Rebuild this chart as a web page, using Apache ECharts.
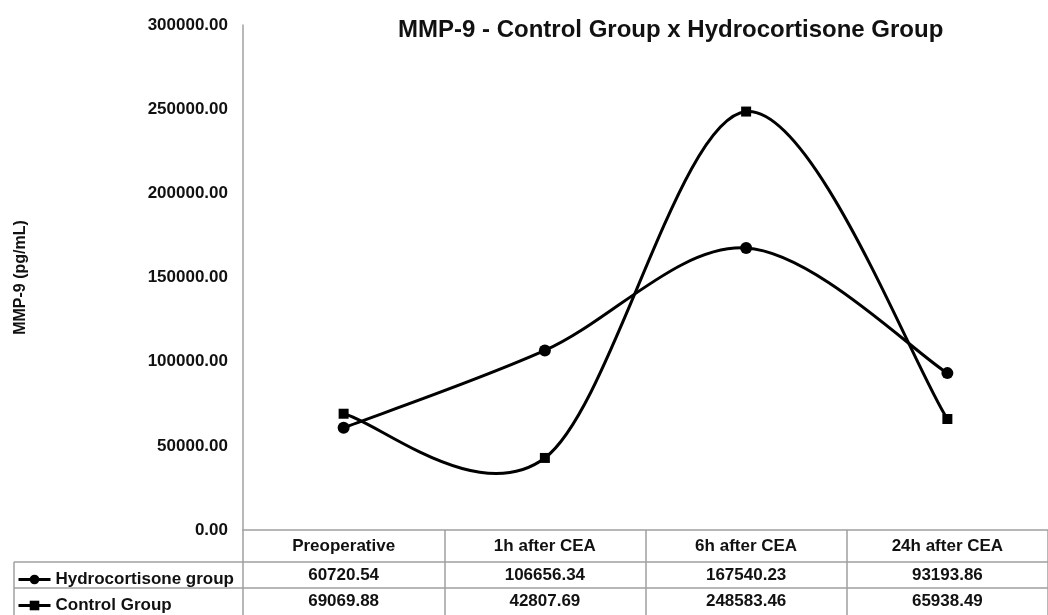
<!DOCTYPE html>
<html>
<head>
<meta charset="utf-8">
<script src="https://cdn.jsdelivr.net/npm/echarts@6/dist/echarts.min.js"></script>
<style>
  html, body { margin: 0; padding: 0; background: #fff; }
  #chart { width: 1048px; height: 615px; }
</style>
</head>
<body>
<div id="chart"></div>
<script>
var categories = ['Preoperative', '1h after CEA', '6h after CEA', '24h after CEA'];
var hydroValues = [60720.54, 106656.34, 167540.23, 93193.86];
var controlValues = [69069.88, 42807.69, 248583.46, 65938.49];
var yTicks = [0, 50000, 100000, 150000, 200000, 250000, 300000];

var font = 'Liberation Sans, Arial, sans-serif';
var gridColor = '#a0a0a0';

function fmt(v) { return v.toFixed(2); }

// one legend per table row
function rowLegend(name, top) {
    return {
        orient: 'vertical',
        left: 17,
        top: top,
        padding: 0,
        itemWidth: 32,
        itemHeight: 12,
        lineStyle: { color: '#000', width: 3, opacity: 1 },
        textStyle: { fontFamily: font, fontSize: 17, fontWeight: 'bold', color: '#111' },
        data: [name]
    };
}

// spreadsheet-like smoothed curve (catmull-rom), one segment per data item
function smoothCurve(values) {
    return {
        type: 'custom',
        z: 1,
        silent: true,
        data: values.map(function (v, i) { return [i, v]; }),
        encode: { x: 0, y: 1 },
        renderItem: function (params, api) {
            var i = params.dataIndex;
            if (i >= values.length - 1) return null;
            var n = values.length;
            function pt(j) {
                j = Math.max(0, Math.min(n - 1, j));
                return api.coord([j, values[j]]);
            }
            var p0 = pt(i - 1), p1 = pt(i), p2 = pt(i + 1), p3 = pt(i + 2);
            return {
                type: 'bezierCurve',
                shape: {
                    x1: p1[0], y1: p1[1],
                    x2: p2[0], y2: p2[1],
                    cpx1: p1[0] + (p2[0] - p0[0]) / 6,
                    cpy1: p1[1] + (p2[1] - p0[1]) / 6,
                    cpx2: p2[0] - (p3[0] - p1[0]) / 6,
                    cpy2: p2[1] - (p3[1] - p1[1]) / 6
                },
                style: { stroke: '#000', lineWidth: 3, fill: null }
            };
        }
    };
}

var myChart = echarts.init(document.getElementById('chart'));

var option = {
    animation: false,
    backgroundColor: '#fff',
    title: {
        text: 'MMP-9 - Control Group x Hydrocortisone Group',
        left: 393,
        top: 13,
        textStyle: { fontFamily: font, fontSize: 24, fontWeight: 'bold', color: '#111' }
    },
    legend: [
        rowLegend('Hydrocortisone group', 571),
        rowLegend('Control Group', 597)
    ],
    grid: { left: 243, right: 0, top: 25, bottom: 85 },
    xAxis: [
        {
            type: 'category',
            data: categories,
            boundaryGap: true,
            axisLine: { lineStyle: { color: gridColor, width: 1.5 } },
            axisTick: { show: true, length: 85, interval: 0, lineStyle: { color: gridColor, width: 1.5 } },
            axisLabel: { interval: 0, margin: 8, fontFamily: font, fontSize: 17, fontWeight: 'bold', color: '#111' }
        },
        {
            type: 'category',
            data: hydroValues.map(fmt),
            position: 'bottom',
            offset: 32,
            axisLine: { lineStyle: { color: gridColor, width: 1.5 } },
            axisTick: { show: false },
            axisLabel: { interval: 0, margin: 5, fontFamily: font, fontSize: 17, fontWeight: 'bold', color: '#111' }
        },
        {
            type: 'category',
            data: controlValues.map(fmt),
            position: 'bottom',
            offset: 58,
            axisLine: { lineStyle: { color: gridColor, width: 1.5 } },
            axisTick: { show: false },
            axisLabel: { interval: 0, margin: 5, fontFamily: font, fontSize: 17, fontWeight: 'bold', color: '#111' }
        }
    ],
    yAxis: {
        type: 'value',
        min: yTicks[0],
        max: yTicks[yTicks.length - 1],
        interval: 50000,
        name: 'MMP-9 (pg/mL)',
        nameLocation: 'middle',
        nameGap: 214,
        nameTextStyle: { fontFamily: font, fontSize: 16, fontWeight: 'bold', color: '#111' },
        axisLine: { show: true, lineStyle: { color: gridColor, width: 1.5 } },
        axisTick: { show: false },
        splitLine: { show: false },
        axisLabel: {
            margin: 15,
            fontFamily: font, fontSize: 17, fontWeight: 'bold', color: '#111',
            formatter: function (v) { return fmt(v); }
        }
    },
    series: [
        smoothCurve(hydroValues),
        smoothCurve(controlValues),
        {
            name: 'Hydrocortisone group',
            type: 'line',
            z: 3,
            data: hydroValues,
            symbol: 'circle',
            symbolSize: 12,
            lineStyle: { color: '#000', width: 3, opacity: 0 },
            itemStyle: { color: '#000' }
        },
        {
            name: 'Control Group',
            type: 'line',
            z: 3,
            data: controlValues,
            symbol: 'rect',
            symbolSize: 10,
            lineStyle: { color: '#000', width: 3, opacity: 0 },
            itemStyle: { color: '#000' }
        }
    ],
    graphic: [
        // left column of the data table
        { type: 'line', shape: { x1: 14, y1: 562, x2: 243, y2: 562 }, style: { stroke: gridColor, lineWidth: 1.5 } },
        { type: 'line', shape: { x1: 14, y1: 588, x2: 243, y2: 588 }, style: { stroke: gridColor, lineWidth: 1.5 } },
        { type: 'line', shape: { x1: 14, y1: 562, x2: 14, y2: 615 }, style: { stroke: gridColor, lineWidth: 1.5 } }
    ]
};

myChart.setOption(option);
</script>
</body>
</html>
